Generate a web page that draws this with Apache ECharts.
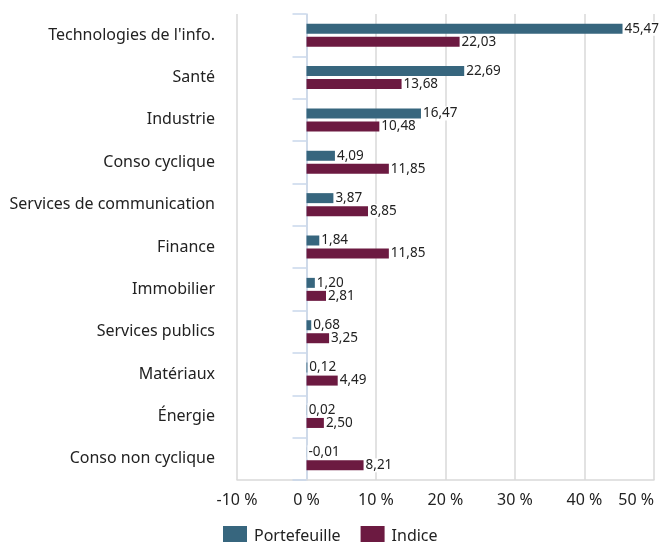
<!DOCTYPE html>
<html>
<head>
<meta charset="utf-8">
<script src="https://cdn.jsdelivr.net/npm/echarts@6/dist/echarts.min.js"></script>
<style>
html,body{margin:0;padding:0;background:#fff;}
#chart{width:659px;height:542px;}
</style>
</head>
<body>
<div id="chart"></div>
<script>
var categories = ["Technologies de l'info.", "Santé", "Industrie", "Conso cyclique", "Services de communication", "Finance", "Immobilier", "Services publics", "Matériaux", "Énergie", "Conso non cyclique"];
var portefeuille = [45.47, 22.69, 16.47, 4.09, 3.87, 1.84, 1.20, 0.68, 0.12, 0.02, -0.01];
var indice = [22.03, 13.68, 10.48, 11.85, 8.85, 11.85, 2.81, 3.25, 4.49, 2.50, 8.21];
var seriesNames = ["Portefeuille", "Indice"];
var colors = ["#37667e", "#6c1a41"];
var xMin = -10, xMax = 50, xInterval = 10;

var font = "'Noto Sans', sans-serif";
function fmt(v) { return v.toFixed(2).replace('.', ','); }

var chart = echarts.init(document.getElementById('chart'), null, {renderer: 'canvas'});
var labelOpt = {
  show: true,
  position: 'right',
  distance: 1,
  color: '#222',
  fontFamily: font,
  fontSize: 13.5,
  backgroundColor: '#fff',
  padding: [0, 1, 0, 1],
  formatter: function (p) { return fmt(p.value); }
};
chart.setOption({
  animation: false,
  color: colors,
  grid: {left: 237, right: 5, top: 14, bottom: 62, containLabel: false},
  legend: {
    data: seriesNames,
    left: 218,
    top: 521,
    itemWidth: 24,
    itemHeight: 20,
    itemGap: 20,
    icon: 'rect',
    textStyle: {fontFamily: font, fontSize: 16, color: '#222', padding: [0, 0, 0, 2]}
  },
  xAxis: {
    type: 'value',
    min: xMin, max: xMax, interval: xInterval,
    axisLine: {show: true, lineStyle: {color: '#d9d9d9', width: 1.5}},
    axisTick: {show: false},
    splitLine: {show: true, lineStyle: {color: '#d9d9d9', width: 1.5}},
    axisLabel: {
      fontFamily: font, fontSize: 16, color: '#222', margin: 12,
      alignMaxLabel: 'right',
      formatter: function (v) { return v + ' %'; }
    }
  },
  yAxis: {
    type: 'category',
    data: categories,
    inverse: true,
    axisLine: {show: true, lineStyle: {color: '#c9d7eb', width: 1.5}},
    axisTick: {show: true, inside: false, length: 14, lineStyle: {color: '#c9d7eb', width: 1.5}},
    axisLabel: {fontFamily: font, fontSize: 16, color: '#222', margin: 22, padding: [3, 0, 0, 0]}
  },
  series: [
    {name: seriesNames[0], type: 'bar', data: portefeuille, barWidth: 10, barGap: '30%', label: labelOpt, z: 3},
    {name: seriesNames[1], type: 'bar', data: indice, barWidth: 10, barGap: '30%', label: labelOpt, z: 3}
  ]
});
</script>
</body>
</html>
